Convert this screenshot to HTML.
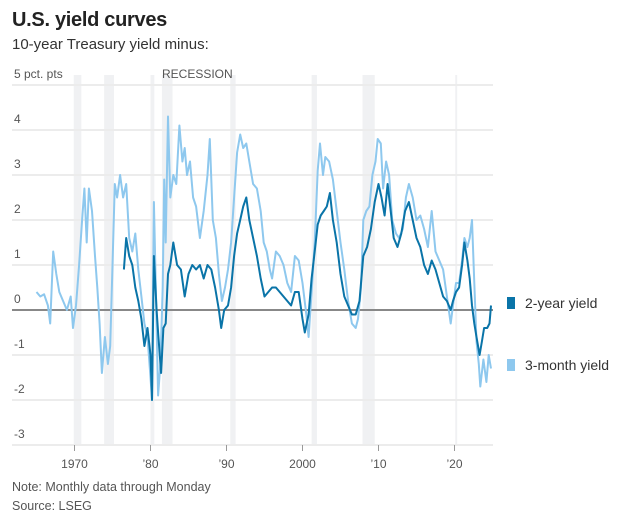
<!DOCTYPE html>
<html><head><meta charset="utf-8"><style>
body{margin:0;background:#fff;font-family:"Liberation Sans",sans-serif;}
#wrap{position:relative;width:631px;height:523px;overflow:hidden;}
.t{position:absolute;white-space:nowrap;}
</style></head><body>
<div id="wrap">
<div class="t" style="left:12px;top:9px;font-size:20px;font-weight:bold;color:#222;letter-spacing:-0.3px">U.S. yield curves</div>
<div class="t" style="left:12px;top:36px;font-size:15px;color:#333">10-year Treasury yield minus:</div>
<svg id="chart" width="631" height="523" style="position:absolute;left:0;top:0"></svg>
<div class="t" style="left:12px;top:480px;font-size:12.5px;color:#555">Note: Monthly data through Monday</div>
<div class="t" style="left:12px;top:499px;font-size:12.5px;color:#555">Source: LSEG</div>
</div>
<script>
const yTicks=[5,4,3,2,1,0,-1,-2,-3];
const yTickLabels=["5 pct. pts","4","3","2","1","0","-1","-2","-3"];
const xTicks=[1970,1980,1990,2000,2010,2020];
const xTickLabels=["1970","’80","’90","2000","’10","’20"];
const recessionStart=[1969.9,1973.9,1980.0,1981.5,1990.5,2001.2,2007.9,2020.1];
const recessionEnd=[1970.9,1975.2,1980.5,1982.9,1991.2,2001.9,2009.5,2020.35];
const m3Years=[1965,1965.5,1966,1966.5,1966.8,1967.2,1967.6,1968,1968.5,1969,1969.5,1969.8,1970.2,1970.6,1971,1971.3,1971.6,1971.9,1972.3,1972.7,1973,1973.3,1973.6,1974,1974.4,1974.7,1975,1975.3,1975.6,1976,1976.4,1976.8,1977.2,1977.6,1978,1978.4,1978.8,1979.2,1979.6,1980,1980.2,1980.45,1980.7,1981,1981.3,1981.6,1981.8,1982,1982.3,1982.6,1983,1983.4,1983.8,1984.2,1984.5,1984.8,1985.2,1985.6,1986,1986.5,1987,1987.5,1987.8,1988.2,1988.6,1989,1989.4,1989.8,1990.2,1990.6,1991,1991.4,1991.8,1992.2,1992.6,1993,1993.5,1994,1994.5,1994.9,1995.3,1995.7,1996,1996.5,1997,1997.5,1998,1998.5,1999,1999.5,2000,2000.5,2000.8,2001.2,2001.6,2002,2002.3,2002.7,2003,2003.5,2004,2004.5,2005,2005.5,2006,2006.5,2007,2007.3,2007.7,2008,2008.4,2008.8,2009.2,2009.6,2009.9,2010.3,2010.6,2011,2011.4,2011.8,2012.3,2012.7,2013.2,2013.6,2014,2014.5,2015,2015.5,2016,2016.5,2017,2017.5,2018,2018.5,2019,2019.5,2019.8,2020.2,2020.6,2021,2021.3,2021.7,2022,2022.3,2022.6,2022.9,2023.2,2023.4,2023.8,2024.2,2024.5,2024.8];
const m3Values=[0.4,0.3,0.35,0.1,-0.3,1.3,0.8,0.4,0.2,0.0,0.3,-0.4,0.1,1.0,2.0,2.7,1.5,2.7,2.2,1.2,0.5,-0.3,-1.4,-0.6,-1.2,-0.8,1.0,2.8,2.5,3.0,2.5,2.8,1.6,1.3,1.7,0.9,0.3,-0.3,-0.6,-1.5,-2.0,2.4,0.5,-1.9,-1.2,0.5,2.9,1.5,4.3,2.5,3.0,2.8,4.1,3.3,3.6,3.0,3.3,2.5,2.3,1.6,2.2,3.0,3.8,2.0,1.6,0.8,0.2,0.5,0.9,1.5,2.5,3.5,3.9,3.6,3.7,3.3,2.8,2.7,2.2,1.5,1.3,0.9,0.7,1.3,1.2,1.0,0.6,0.4,1.2,1.1,0.6,-0.1,-0.6,0.4,1.5,3.1,3.7,3.0,3.4,3.3,2.9,2.2,1.5,0.9,0.2,-0.3,-0.4,-0.2,0.5,2.0,2.2,2.3,3.0,3.3,3.8,3.7,2.7,3.3,3.0,2.0,1.7,1.6,1.8,2.5,2.8,2.5,2.0,2.1,1.8,1.4,2.2,1.3,1.1,0.9,0.3,-0.3,0.1,0.6,0.6,1.1,1.6,1.4,1.6,2.0,0.6,-0.7,-1.2,-1.7,-1.1,-1.6,-1.0,-1.3];
const y2Years=[1976.5,1976.8,1977.2,1977.6,1978,1978.4,1978.8,1979.2,1979.6,1980,1980.2,1980.45,1980.8,1981,1981.4,1981.7,1982,1982.3,1982.6,1983,1983.5,1984,1984.5,1985,1985.5,1986,1986.5,1987,1987.5,1988,1988.5,1989,1989.3,1989.7,1990.2,1990.6,1991,1991.4,1991.8,1992.2,1992.6,1993,1993.5,1994,1994.5,1995,1995.5,1996,1996.5,1997,1997.5,1998,1998.5,1999,1999.5,2000,2000.3,2000.8,2001.2,2001.6,2002,2002.4,2002.8,2003.2,2003.6,2004,2004.5,2005,2005.5,2006,2006.5,2007,2007.5,2008,2008.5,2009,2009.5,2010,2010.4,2010.8,2011.2,2011.6,2012,2012.5,2013,2013.5,2014,2014.5,2015,2015.5,2016,2016.5,2017,2017.5,2018,2018.5,2019,2019.5,2019.8,2020.2,2020.6,2021,2021.3,2021.7,2022,2022.3,2022.6,2022.9,2023.3,2023.6,2023.9,2024.3,2024.6,2024.8];
const y2Values=[0.9,1.6,1.2,1.0,0.5,0.2,-0.2,-0.8,-0.4,-1.0,-2.0,1.2,0.0,-0.5,-1.4,-0.4,-0.3,0.8,1.0,1.5,1.0,0.9,0.3,0.8,1.0,0.9,1.0,0.7,1.0,0.9,0.5,0.0,-0.4,0.0,0.1,0.5,1.2,1.7,2.0,2.3,2.5,2.0,1.6,1.2,0.7,0.3,0.4,0.5,0.5,0.4,0.3,0.2,0.1,0.4,0.4,-0.2,-0.5,-0.1,0.7,1.3,1.9,2.1,2.2,2.3,2.6,2.0,1.5,0.8,0.3,0.1,-0.1,-0.1,0.2,1.2,1.4,1.8,2.4,2.8,2.5,2.1,2.8,2.2,1.6,1.4,1.7,2.2,2.4,2.0,1.6,1.4,1.0,0.8,1.1,0.9,0.6,0.3,0.2,0.0,0.2,0.4,0.5,1.0,1.5,1.1,0.7,0.1,-0.3,-0.6,-1.0,-0.7,-0.4,-0.4,-0.3,0.1];

const NS="http://www.w3.org/2000/svg";
const svg=document.getElementById('chart');
const X0=12,X1=493;
function xs(yr){return 74.5+(yr-1970)*7.6;}
function ys(v){return 310-v*45;}
function mk(tag,attrs,parent){const e=document.createElementNS(NS,tag);for(const k in attrs)e.setAttribute(k,attrs[k]);(parent||svg).appendChild(e);return e;}

recessionStart.forEach((s,i)=>{
  const r=mk('rect',{x:xs(s),y:ys(5)-10,width:xs(recessionEnd[i])-xs(s),height:ys(-3)-ys(5)+10,fill:'#f0f1f3'});
  
  
});
yTicks.forEach((v,i)=>{
  const l=mk('line',{x1:X0,x2:X1,y1:ys(v),y2:ys(v),stroke:v===0?'#888':'#ececec','stroke-width':v===0?2:2});
  
  
  const t=mk('text',{x:14,y:ys(v)-7,'font-size':12,fill:'#555','font-family':'Liberation Sans, sans-serif'});
  t.textContent=yTickLabels[i];
  
  
});
const rl=mk('text',{x:162,y:ys(5)-7,'font-size':12,fill:'#555','font-family':'Liberation Sans, sans-serif'});
rl.textContent='RECESSION';


xTicks.forEach((yr,i)=>{
  const l=mk('line',{x1:xs(yr),x2:xs(yr),y1:ys(-3),y2:ys(-3)+6,stroke:'#999','stroke-width':1});
  
  
  const t=mk('text',{x:xs(yr),y:ys(-3)+23,'font-size':12,fill:'#555','text-anchor':'middle','font-family':'Liberation Sans, sans-serif'});
  t.textContent=xTickLabels[i];
  
  
});
function line(xa,va,color,name){
  const d=xa.map((x,i)=>(i?'L':'M')+xs(x).toFixed(1)+','+ys(va[i]).toFixed(1)).join('');
  const p=mk('path',{d:d,fill:'none',stroke:color,'stroke-width':2,'stroke-linejoin':'round'});
  
  
}
line(m3Years,m3Values,'#8ec8ee','three-month-yield-line');
line(y2Years,y2Values,'#0a74a8','two-year-yield-line');
function legend(y,color,label,name){
  const r=mk('rect',{x:507,y:y-6,width:8,height:12,fill:color});
  
  
  const t=mk('text',{x:525,y:y+5,'font-size':14,fill:'#333','font-family':'Liberation Sans, sans-serif'});
  t.textContent=label;
  
  
}
legend(303,'#0a74a8','2-year yield','legend-two-year');
legend(365,'#8ec8ee','3-month yield','legend-three-month');
</script>
</body></html>
